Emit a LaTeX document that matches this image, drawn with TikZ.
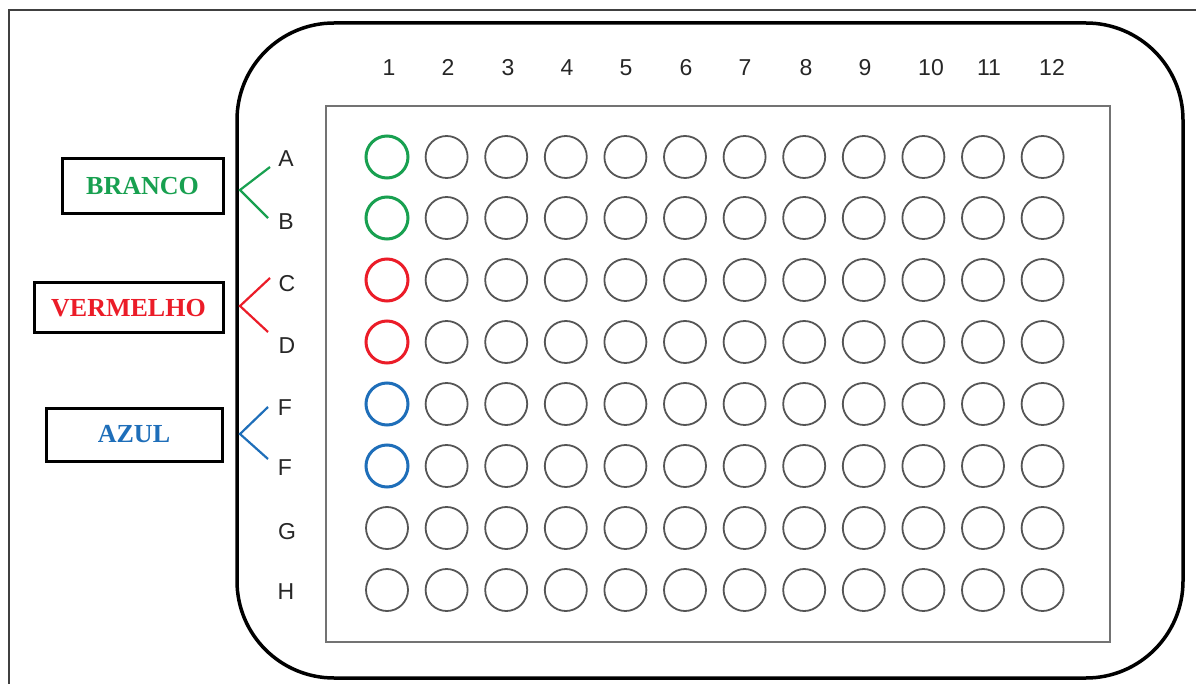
\documentclass[tikz,border=0pt]{standalone}
\usepackage{fontspec}
\setmainfont{Liberation Serif}
\setsansfont{Liberation Sans}
\begin{document}
\begin{tikzpicture}[x=1pt,y=-1pt,
  well/.style={circle,draw=welgray,line width=1.8pt,minimum size=42pt,inner sep=0pt},
  cwell/.style={well,line width=3pt},
  collab/.style={font=\sffamily\fontsize{23}{23}\selectfont,text=black!85,inner sep=0pt,text height=16.5pt,text depth=0pt},
  rowlab/.style={font=\sffamily\fontsize{23}{23}\selectfont,text=black!85,inner sep=0pt,text height=16.5pt,text depth=0pt},
  tagbox/.style={draw=black,line width=3pt,font=\rmfamily\bfseries\fontsize{26}{26}\selectfont,inner sep=0pt},
  brk/.style={line width=2.2pt}]
\definecolor{welgray}{RGB}{85,85,85}
\definecolor{mgreen}{RGB}{24,160,80}
\definecolor{mred}{RGB}{235,28,40}
\definecolor{mblue}{RGB}{30,110,185}
\useasboundingbox (0,0) rectangle (1196,684);
% outer frame (top and left only)
\draw[line width=2pt,black!75] (9,684) -- (9,10) -- (1196,10);
% plate
\draw[line width=3.5pt,rounded corners=97pt] (237,23) rectangle (1183,678);
\draw[line width=1.8pt,black!55] (326,106) rectangle (1110,642);
% column labels
\foreach \n/\x in {1/389,2/448,3/508,4/567,5/626,6/686,7/745,8/806,9/865,10/931,11/989,12/1052}
  \node[collab] (c\n) at (\x,67) {\n};
% row labels
\node[rowlab] (rA) at (286,158) {A};
\node[rowlab] (rB) at (286,221) {B};
\node[rowlab] (rC) at (287,283) {C};
\node[rowlab] (rD) at (287,345) {D};
\node[rowlab] (rE) at (285,407) {F};
\node[rowlab] (rF) at (285,467) {F};
\node[rowlab] (rG) at (287,531) {G};
\node[rowlab] (rH) at (286,591) {H};
% wells
\foreach \r/\y in {1/157,2/218,3/280,4/342,5/404,6/466,7/528,8/590}
  \foreach \c in {2,...,12}
    \node[well] (w\r-\c) at ({387+59.6*(\c-1)},\y) {};
\node[cwell,draw=mgreen] (w1-1) at (387,157) {};
\node[cwell,draw=mgreen] (w2-1) at (387,218) {};
\node[cwell,draw=mred] (w3-1) at (387,280) {};
\node[cwell,draw=mred] (w4-1) at (387,342) {};
\node[cwell,draw=mblue] (w5-1) at (387,404) {};
\node[cwell,draw=mblue] (w6-1) at (387,466) {};
\node[well] (w7-1) at (387,528) {};
\node[well] (w8-1) at (387,590) {};
% tag boxes
\node[tagbox,text=mgreen,minimum width=161pt,minimum height=55pt] (branco) at (142.5,186.5) {BRANCO};
\node[tagbox,text=mred,minimum width=189pt,minimum height=50pt] (verm) at (128.5,308) {VERMELHO};
\node[tagbox,text=mblue,minimum width=176pt,minimum height=53pt] (azul) at (134,434.5) {AZUL};
% brackets
\coordinate (vG) at (240,190);
\coordinate (vR) at (240,306);
\coordinate (vB) at (240,434);
\draw[brk,mgreen] ([shift={(-16,9)}]rA.center) -- (vG) -- ([shift={(-18,-3)}]rB.center);
\draw[brk,mred] ([shift={(-17,-5)}]rC.center) -- (vR) -- ([shift={(-19,-13)}]rD.center);
\draw[brk,mblue] ([shift={(-17,0)}]rE.center) -- (vB) -- ([shift={(-17,-8)}]rF.center);
\end{tikzpicture}
\end{document}
